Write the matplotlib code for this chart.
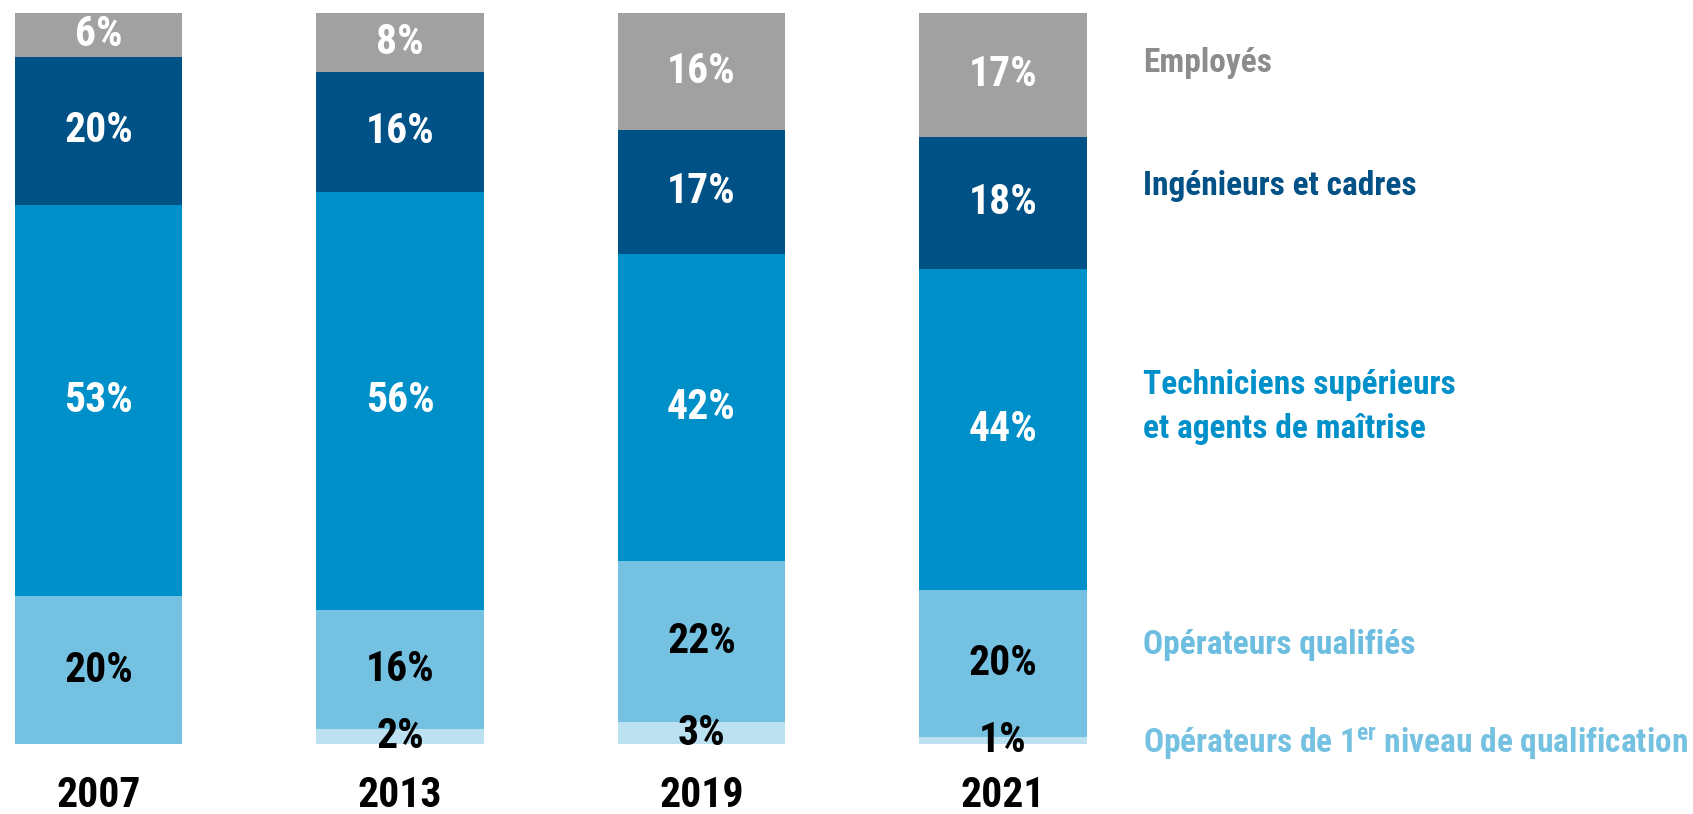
import matplotlib.pyplot as plt
from matplotlib import font_manager as fm
import numpy as np

years = ["2007", "2013", "2019", "2021"]
categories = ["Opérateurs de 1$\\mathregular{^{er}}$ niveau de qualification",
              "Opérateurs qualifiés",
              "Techniciens supérieurs\net agents de maîtrise",
              "Ingénieurs et cadres",
              "Employés"]
# shares per category (bottom to top), one value per year
op_1er = [0, 2, 3, 1]
op_qualif = [20, 16, 22, 20]
techniciens = [53, 56, 42, 44]
ingenieurs = [20, 16, 17, 18]
employes = [6, 8, 16, 17]

seg_colors = ["#bce1f1", "#74c1e1", "#0090c9", "#005186", "#a1a1a1"]
lab_colors = ["#74c1e1", "#6cbde0", "#0090c9", "#005186", "#8c8c8c"]
txt_colors = ["black", "black", "white", "white", "white"]

# narrow font if there is one, else Arial-like
installed = {f.name for f in fm.fontManager.ttflist}
narrow = False
font = 'Liberation Sans'
for cand in ['Liberation Sans Narrow', 'Arial Narrow', 'Roboto Condensed']:
    if cand in installed:
        font, narrow = cand, True
        break
plt.rcParams['font.family'] = [font, 'DejaVu Sans']
plt.rcParams['font.weight'] = 'bold'
big = 30 if narrow else 26
small = 24 if narrow else 19

W, H = 1693, 814
fig = plt.figure(figsize=(W / 100, H / 100), dpi=100)
ax = fig.add_axes([0, 70 / H, 1, (744 - 12.5) / H])

series = np.array([op_1er, op_qualif, techniciens, ingenieurs, employes], dtype=float)
heights = series / series.sum(axis=0) * 100  # bars fill to 100 %

x = np.arange(len(years))
width = 0.554
bottom = np.zeros(len(years))
for i in range(len(series)):
    ax.bar(x, heights[i], width, bottom=bottom, color=seg_colors[i], linewidth=0)
    for j in range(len(years)):
        if series[i, j] > 0:
            ax.text(x[j], bottom[j] + heights[i, j] / 2, f"{int(series[i, j])}%",
                    ha='center', va='center', color=txt_colors[i],
                    fontsize=big, fontweight='bold')
    bottom += heights[i]

ax.set_xlim(-0.3267, -0.3267 + W / 301.5)
ax.set_ylim(0, 100)
ax.set_xticks(x)
ax.set_xticklabels(years, fontsize=big, fontweight='bold')
ax.tick_params(axis='x', length=0, pad=22)
ax.set_yticks([])
for s in ax.spines.values():
    s.set_visible(False)

# labels on the right
label_y = [744, 645, 407, 186, 63]
for i, cat in enumerate(categories):
    fig.text(1143 / W, 1 - label_y[i] / H, cat, color=lab_colors[i],
             fontsize=small, fontweight='bold', va='center', ha='left', linespacing=1.45)

fig.savefig("out.png", dpi=100)
